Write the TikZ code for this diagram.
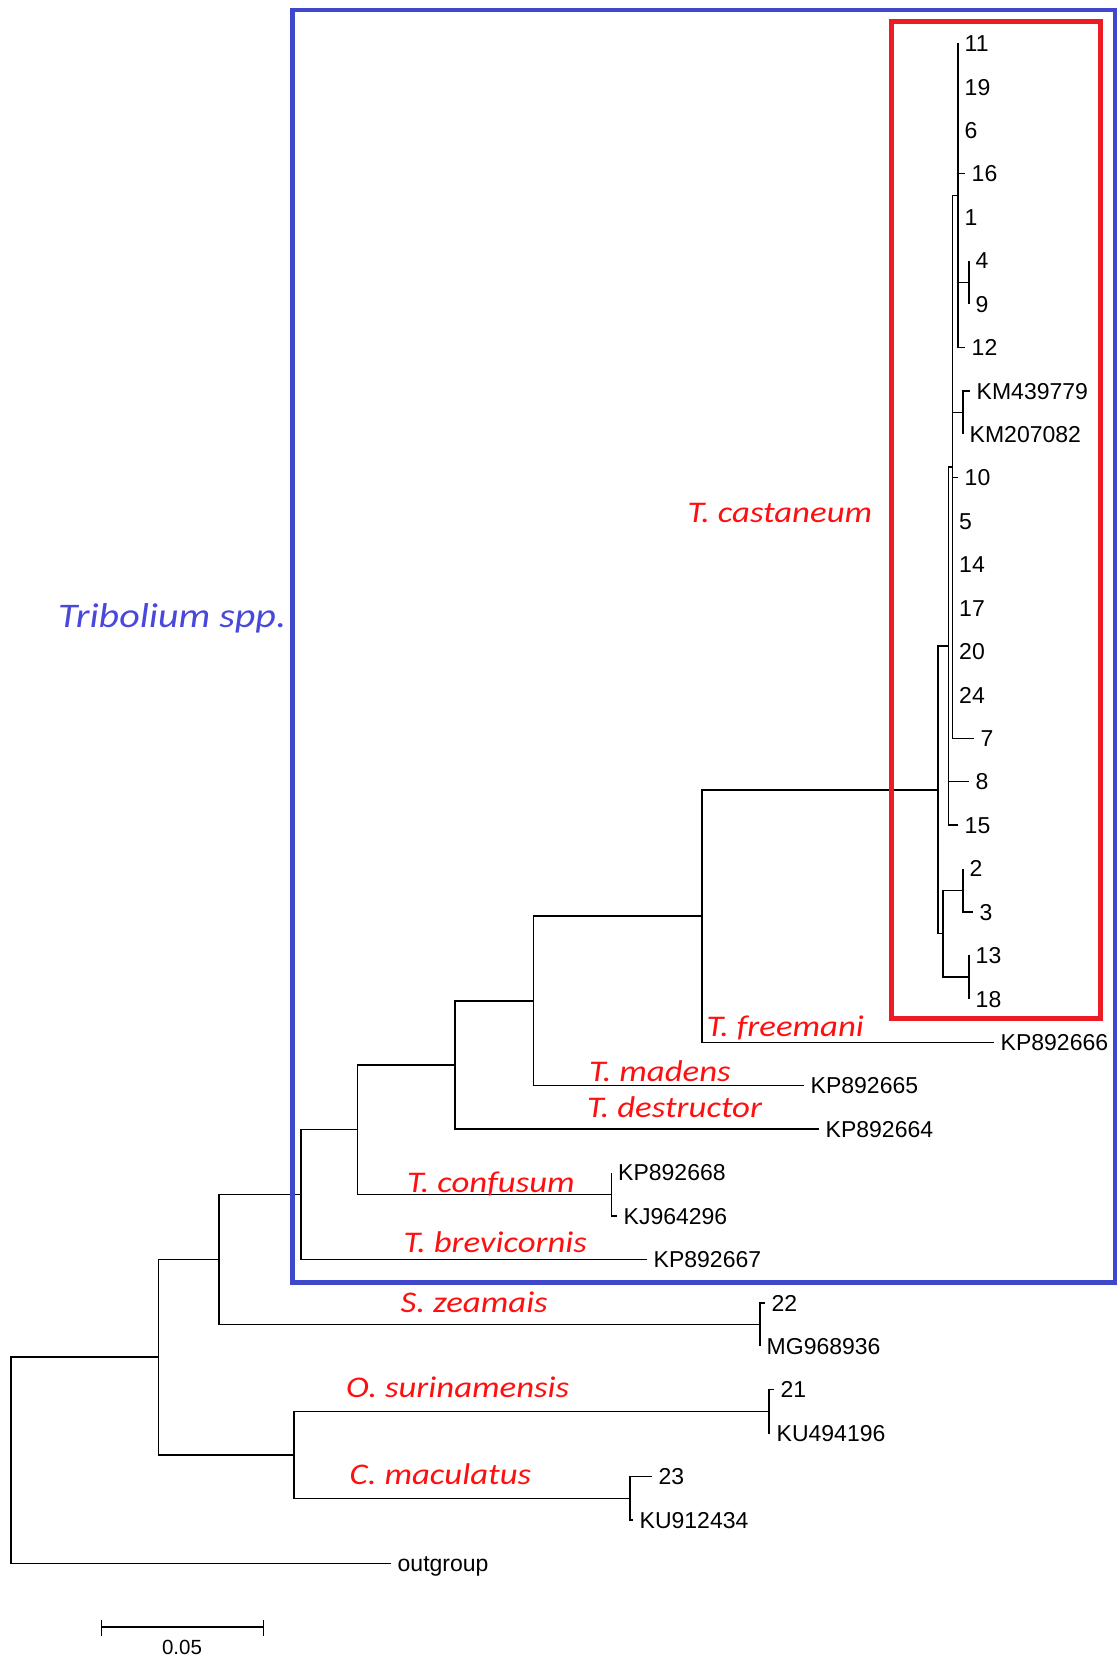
\documentclass[tikz,border=0pt]{standalone}
\usepackage{fontspec}
\setmainfont{Liberation Sans}
\newfontfamily\spfont[FakeStretch=1.16]{Carlito}
\definecolor{frameblue}{RGB}{63,72,204}
\definecolor{framered}{RGB}{237,28,36}
\definecolor{spblue}{RGB}{72,72,220}
\definecolor{spred}{RGB}{255,16,16}

\begin{document}
\begin{tikzpicture}[x=1pt,y=-43.43pt,
    br/.style={line width=1.5pt},
    tipbr/.style={br, shorten >=6.5pt},
    tip/.style={font=\fontsize{23}{27}\selectfont, inner sep=0pt, anchor=west, text height=16.5pt, text depth=0pt},
    sp/.style={font=\spfont\itshape\fontsize{30}{36}\selectfont, text=spred, inner sep=0pt, anchor=base west}]
    \useasboundingbox (0,-0.99931) rectangle (1118,37.2001);

    % internal nodes of the tree (x in pt, y in rows)
    \coordinate (root) at (11,32.626);
    \coordinate (nM) at (158.7,30.2515);
    \coordinate (nK) at (219,28.0029);
    \coordinate (nL) at (294,32.5);
    \coordinate (nJ) at (301,26.5059);
    \coordinate (nSz) at (760,29.5);
    \coordinate (nI) at (357.5,25.0117);
    \coordinate (nH) at (455,23.5234);
    \coordinate (nTc) at (611.5,26.5);
    \coordinate (nG) at (533.5,22.0469);
    \coordinate (nF) at (702,20.0938);
    \coordinate (nD) at (938,17.1875);
    \coordinate (nC) at (948.5,13.875);
    \coordinate (nE) at (943,20.5);
    \coordinate (nB) at (952.5,9.75);
    \coordinate (nA) at (958,3.5);
    \coordinate (nKM) at (963,8.5);
    \coordinate (n49) at (969,5.5);
    \coordinate (n23) at (963,19.5);
    \coordinate (n1318) at (969,21.5);
    \coordinate (nOs) at (769,31.5);
    \coordinate (nCm) at (630,33.5);

    % tips
    \node[tip] (t11) at (964.5,0) {11};
    \node[tip] (t19) at (964.5,1) {19};
    \node[tip] (t6) at (964.5,2) {6};
    \node[tip] (t16) at (971.5,3) {16};
    \node[tip] (t1) at (964.5,4) {1};
    \node[tip] (t4) at (975.5,5) {4};
    \node[tip] (t9) at (975.5,6) {9};
    \node[tip] (t12) at (971.5,7) {12};
    \node[tip] (tKM439779) at (976.5,8) {KM439779};
    \node[tip] (tKM207082) at (969.5,9) {KM207082};
    \node[tip] (t10) at (964.5,10) {10};
    \node[tip] (t5) at (959,11) {5};
    \node[tip] (t14) at (959,12) {14};
    \node[tip] (t17) at (959,13) {17};
    \node[tip] (t20) at (959,14) {20};
    \node[tip] (t24) at (959,15) {24};
    \node[tip] (t7) at (980.5,16) {7};
    \node[tip] (t8) at (975.5,17) {8};
    \node[tip] (t15) at (964.5,18) {15};
    \node[tip] (t2) at (969.5,19) {2};
    \node[tip] (t3) at (979.5,20) {3};
    \node[tip] (t13) at (975.5,21) {13};
    \node[tip] (t18) at (975.5,22) {18};
    \node[tip] (tKP892666) at (1000.5,23) {KP892666};
    \node[tip] (tKP892665) at (810.5,24) {KP892665};
    \node[tip] (tKP892664) at (825.5,25) {KP892664};
    \node[tip] (tKP892668) at (618,26) {KP892668};
    \node[tip] (tKJ964296) at (623.5,27) {KJ964296};
    \node[tip] (tKP892667) at (653.5,28) {KP892667};
    \node[tip] (t22) at (771.5,29) {22};
    \node[tip] (tMG968936) at (766.5,30) {MG968936};
    \node[tip] (t21) at (780.5,31) {21};
    \node[tip] (tKU494196) at (776.5,32) {KU494196};
    \node[tip] (t23) at (658.5,33) {23};
    \node[tip] (tKU912434) at (639.5,34) {KU912434};
    \node[tip] (tout) at (397.5,35) {outgroup};

    % branches
    \foreach \a/\b in {root/nM, nM/nK, nM/nL, nK/nJ, nK/nSz, nJ/nI, nI/nH, nI/nTc,
        nH/nG, nG/nF, nF/nD, nD/nC, nD/nE, nC/nB, nB/nA, nB/nKM, nA/n49,
        nE/n23, nE/n1318, nL/nOs, nL/nCm}
        \draw[br] (\a) |- (\b);
    \foreach \a/\b in {nA/t11, nA/t19, nA/t6, nA/t16, nA/t1, nA/t12, n49/t4, n49/t9,
        nKM/tKM439779, nKM/tKM207082, nB/t10, nB/t5, nB/t14, nB/t17, nB/t20, nB/t24,
        nB/t7, nC/t8, nC/t15, n23/t2, n23/t3, n1318/t13, n1318/t18,
        nF/tKP892666, nG/tKP892665, nH/tKP892664, nTc/tKP892668, nTc/tKJ964296,
        nJ/tKP892667, nSz/t22, nSz/tMG968936, nOs/t21, nOs/tKU494196,
        nCm/t23, nCm/tKU912434, root/tout}
        \draw[tipbr] (\a) |- (\b);

    % species names
    \node[sp] (lCast) at (687.5,11.02) {T. castaneum};
    \node[sp] (lFree) at (706.5,22.87) {T. freemani};
    \node[sp] (lMad) at (589,23.91) {T. madens};
    \node[sp] (lDest) at (587,24.74) {T. destructor};
    \node[sp] (lConf) at (407,26.45) {T. confusum};
    \node[sp] (lBrev) at (403.5,27.85) {T. brevicornis};
    \node[sp] (lZea) at (400.5,29.23) {S. zeamais};
    \node[sp] (lSuri) at (346,31.19) {O. surinamensis};
    \node[sp] (lMacu) at (349.5,33.19) {C. maculatus};
    \node[sp, text=spblue, font=\spfont\itshape\fontsize{34.5}{40}\selectfont] (lTrib) at (58,13.44) {Tribolium spp.};

    % frames
    \draw[line width=4.5pt, frameblue] (292.5,-0.769) rectangle (1115,28.531);
    \draw[line width=5pt, framered] (891,-0.4928) rectangle (1100,22.441);

    % scale bar
    \coordinate (sbL) at (101.5,36.46);
    \coordinate (sbR) at (263.4,36.46);
    \draw[br] (sbL) -- (sbR);
    \draw[br] (sbL) ++(0,-0.16) -- ++(0,0.37);
    \draw[br] (sbR) ++(0,-0.16) -- ++(0,0.37);
    \node[tip, anchor=center, font=\fontsize{20.5}{24}\selectfont] (sbl) at (182,36.9) {0.05};
\end{tikzpicture}
\end{document}
